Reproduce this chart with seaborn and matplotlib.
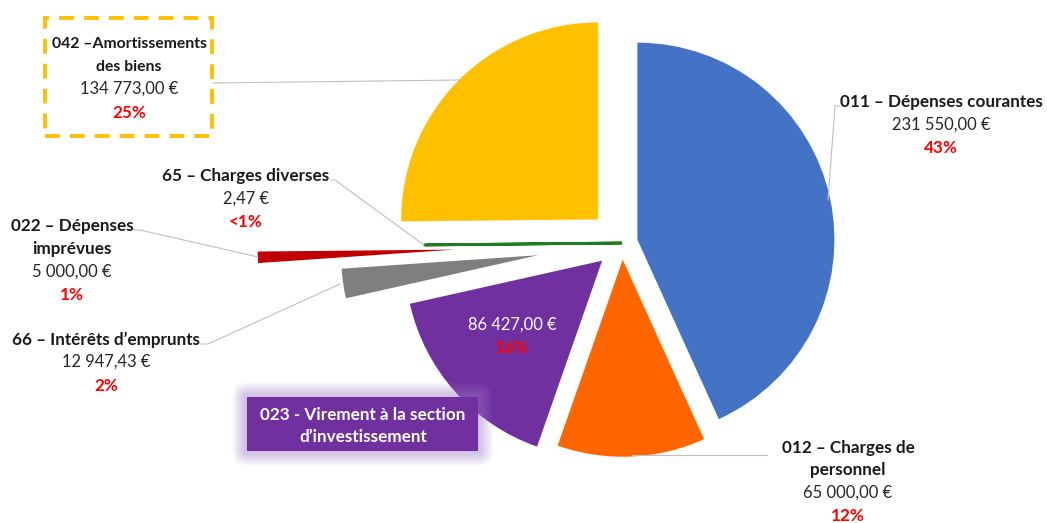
import matplotlib
matplotlib.use("Agg")
import matplotlib.pyplot as plt
from matplotlib.patches import Rectangle, FancyBboxPatch
import seaborn as sns

sns.set_theme(style="white")
plt.rcParams["font.family"] = ["Lato", "DejaVu Sans"]

# Budget lines, clockwise from 12 o'clock
codes = ["011", "012", "023", "66", "022", "65", "042"]
titles = [
    "011 – Dépenses courantes",
    "012 – Charges de\npersonnel",
    "023 - Virement à la section\nd’investissement",
    "66 – Intérêts d’emprunts",
    "022 – Dépenses\nimprévues",
    "65 – Charges diverses",
    "042 –Amortissements\ndes biens",
]
amounts = [231550.00, 65000.00, 86427.00, 12947.43, 5000.00, 2.47, 134773.00]
colors = ["#4472C4", "#FF6600", "#7030A0", "#7F7F7F", "#C00000", "#1E7B1E", "#FFC000"]
# offset of each slice, as a fraction of the radius
explode_frac = [0.08, 0.085, 0.135, 0.43, 0.85, 0.0, 0.17]

W, H = 1047, 523
R = 197
CX, CY = 622, 243


def py(y):
    return H - y


def euro(v):
    s = f"{v:,.2f}".replace(",", " ").replace(".", ",")
    return s + " €"


total = sum(amounts)
pcts = []
for a in amounts:
    p = round(a / total * 100)
    pcts.append("<1%" if p < 1 else f"{p}%")

fig = plt.figure(figsize=(W / 100, H / 100), dpi=100)
ax = fig.add_axes([0, 0, 1, 1])

wedges, _ = ax.pie(
    amounts,
    colors=colors,
    startangle=90,
    counterclock=False,
    center=(CX, py(CY)),
    radius=R,
    explode=[f * R for f in explode_frac],
    wedgeprops=dict(linewidth=0),
)
# the tiny "65" slice shows only as its edge
wedges[5].set_edgecolor(colors[5])
wedges[5].set_linewidth(2)

ax.set_xlim(0, W)
ax.set_ylim(0, H)
ax.set_aspect("auto")
ax.axis("off")

FS_B, FS_R = 12.3, 11.9
VAL = dict(fontsize=FS_R, color="#262626", ha="center", va="center")
PCT = dict(fontsize=FS_B, fontweight="bold", color="#FF0000", ha="center", va="center")

# label blocks: (center x, y of each line, title size)
blocks = {
    "011": (941, [102, 125, 148], FS_B),
    "012": (848, [448, 470, 493, 516], FS_B),
    "66": (106, [340, 362, 386], FS_B),
    "022": (72, [226, 249, 272, 295], FS_B),
    "65": (246, [176, 199, 222], FS_B),
    "042": (129, [44, 67, 89, 113], 11.3),
}
for i, code in enumerate(codes):
    if code not in blocks:
        continue
    x, ys, fs = blocks[code]
    name_lines = titles[i].split("\n")
    for j, line in enumerate(name_lines):
        ax.text(x, py(ys[j]), line, fontsize=fs, fontweight="bold", color="#1a1a1a",
                ha="center", va="center")
    ax.text(x, py(ys[len(name_lines)]), euro(amounts[i]), **VAL)
    ax.text(x, py(ys[len(name_lines) + 1]), pcts[i], **PCT)

# value and share written inside the purple slice
ax.text(512, py(325), euro(amounts[2]), fontsize=FS_R, color="white", ha="center", va="center")
ax.text(512, py(348), pcts[2], fontsize=FS_B, fontweight="bold", color="#FF0000", ha="center", va="center")

# purple title box with a soft halo
bx0, by0, bx1, by1 = 247, 397, 478, 451
for k in range(12, 0, -1):
    ax.add_patch(FancyBboxPatch((bx0 - k * 0.2, py(by1) - k * 0.2), bx1 - bx0 + k * 0.4, by1 - by0 + k * 0.4,
                                boxstyle=f"round,pad={k},rounding_size={k + 2}",
                                facecolor="#A57FCB", edgecolor="none", alpha=0.05, zorder=3))
ax.add_patch(Rectangle((bx0, py(by1)), bx1 - bx0, by1 - by0, facecolor="#7030A0",
                       edgecolor="none", zorder=4))
for j, line in enumerate(titles[2].split("\n")):
    ax.text(363, py([415, 437][j]), line, fontsize=FS_B, fontweight="bold", color="white",
            ha="center", va="center", zorder=5)

# dashed frame round the "042" label
ax.add_patch(Rectangle((45, py(136)), 212 - 45, 136 - 18, facecolor="none", edgecolor="#FFC000",
                       linewidth=2.8, linestyle=(0, (3.8, 2.6)), zorder=3))

# leader lines
leaders = [
    [(213, 83), (460, 80)],
    [(330, 180), (335, 180), (424, 245)],
    [(133, 230), (140, 230), (258, 257)],
    [(201, 344), (208, 344), (340, 284)],
    [(840, 106), (835, 106), (828, 200)],
    [(632, 455), (767, 455)],
]
for pts in leaders:
    xs = [p[0] for p in pts]
    ys = [py(p[1]) for p in pts]
    ax.plot(xs, ys, color="#BFBFBF", linewidth=0.8, zorder=1)

fig.savefig("out.png", dpi=100)
